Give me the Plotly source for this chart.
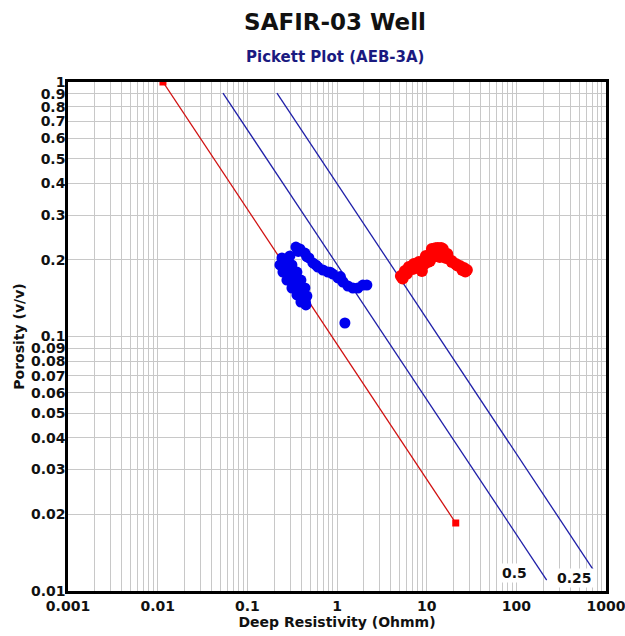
import plotly.graph_objects as go
import math

# --- Data -------------------------------------------------------------
# Blue data points (Deep resistivity, porosity)
blue_rt = [0.2431, 0.2308, 0.2494, 0.2763, 0.3143, 0.3573, 0.3959,
           0.2985, 0.3143, 0.3573, 0.3959, 0.4386, 0.4617, 0.4501,
           0.2693, 0.2985, 0.3308, 0.3665, 0.4062, 0.4276,
           0.2600, 0.2850, 0.3050, 0.3400, 0.3750, 0.4150, 0.4450,
           0.3482, 0.3858, 0.4386, 0.4861, 0.5386, 0.6124, 0.6963, 0.7918,
           0.9003, 1.0233, 1.1636, 1.3228, 1.5041, 1.7100, 1.9445, 2.1544,
           0.3700, 0.4600, 0.5800, 0.8400, 1.0900,
           1.2251]
blue_phi = [0.2035, 0.1910, 0.1792, 0.1667, 0.1551, 0.1456, 0.1366,
            0.2072, 0.1910, 0.1792, 0.1667, 0.1551, 0.1442, 0.1330,
            0.1963, 0.1825, 0.1698, 0.1579, 0.1482, 0.1391,
            0.1990, 0.1870, 0.1730, 0.1620, 0.1520, 0.1420, 0.1360,
            0.2247, 0.2207, 0.2128, 0.2035, 0.1945, 0.1875, 0.1825, 0.1792,
            0.1760, 0.1698, 0.1637, 0.1579, 0.1551, 0.1551, 0.1593, 0.1593,
            0.2160, 0.2060, 0.1910, 0.1790, 0.1720,
            0.1130]

# Red data points
red_rt = [5.157, 5.715, 6.332, 7.199, 8.188, 9.307, 10.31, 11.14, 12.03,
          13.33, 14.77, 15.95, 17.23, 19.10, 21.16, 23.45, 25.98, 28.07,
          11.43, 13.33, 15.15, 9.797, 8.401, 8.842, 14.03, 12.66, 10.86,
          5.40, 6.00, 7.00, 8.20, 9.30, 10.3, 16.5, 19.0, 22.0, 25.0, 27.0,
          11.5, 12.5, 14.5, 17.0]
red_phi = [0.1729, 0.1809, 0.1875, 0.1928, 0.1963, 0.1980, 0.2035, 0.2110, 0.2148,
           0.2167, 0.2167, 0.2110, 0.2035, 0.1963, 0.1928, 0.1892, 0.1858, 0.1825,
           0.2207, 0.2227, 0.2207, 0.2072, 0.1858, 0.1809, 0.2054, 0.2072, 0.1980,
           0.1690, 0.1765, 0.1840, 0.1880, 0.1920, 0.1960, 0.2035, 0.1980, 0.1900,
           0.1825, 0.1800, 0.2167, 0.2220, 0.2227, 0.2110]

# Saturation lines (Sw = 1, 0.5, 0.25)
sw1_rt = [0.01146, 21.1]
sw1_phi = [1.0, 0.0185]
sw05_rt = [0.0535, 218.0]
sw05_phi = [0.905, 0.01104]
sw025_rt = [0.214, 713.0]
sw025_phi = [0.905, 0.0122]

# Ticks
x_tickvals = [m * 10 ** e for e in range(-3, 3) for m in range(1, 10)] + [1000]
x_ticktext = [("%g" % (m * 10 ** e) if m == 1 else "") for e in range(-3, 3)
              for m in range(1, 10)] + ["1000"]
y_tickvals = [m * 10 ** e for e in range(-2, 0) for m in range(1, 10)] + [1]
y_ticktext = ["%g" % v for v in y_tickvals]

# --- Figure -----------------------------------------------------------
FONT = "DejaVu Sans"
fig = go.Figure()

fig.add_trace(go.Scatter(x=sw1_rt, y=sw1_phi, mode="lines+markers",
                         line=dict(color="#d01010", width=1.3),
                         marker=dict(symbol="square", size=7, color="#ff0000"),
                         showlegend=False))
fig.add_trace(go.Scatter(x=sw05_rt, y=sw05_phi, mode="lines",
                         line=dict(color="#1f1fa8", width=1.3), showlegend=False))
fig.add_trace(go.Scatter(x=sw025_rt, y=sw025_phi, mode="lines",
                         line=dict(color="#1f1fa8", width=1.3), showlegend=False))
fig.add_trace(go.Scatter(x=blue_rt, y=blue_phi, mode="markers",
                         marker=dict(size=11, color="#0000ee", line=dict(width=0)),
                         showlegend=False))
fig.add_trace(go.Scatter(x=red_rt, y=red_phi, mode="markers",
                         marker=dict(size=12, color="#ff0000", line=dict(width=0)),
                         showlegend=False))

axis_common = dict(
    type="log", showgrid=True, gridcolor="#c8c8c8", gridwidth=1.3,
    showline=True, linecolor="black", linewidth=2.5, mirror=True,
    ticks="", zeroline=False, automargin=False, ticklabeloverflow="allow",
    tickfont=dict(family=FONT, size=14, color="#111111", weight="bold"),
)

fig.update_xaxes(range=[-3, 3], tickmode="array", tickvals=x_tickvals,
                 ticktext=x_ticktext,
                 title=dict(text="Deep Resistivity (Ohmm)", standoff=3,
                            font=dict(family=FONT, size=14, color="#111111", weight="bold")),
                 **axis_common)
fig.update_yaxes(range=[-2, 0], tickmode="array", tickvals=y_tickvals,
                 ticktext=y_ticktext, ticklabelstandoff=-3,
                 title=dict(text="Porosity (v/v)", standoff=4,
                            font=dict(family=FONT, size=14, color="#111111", weight="bold")),
                 **axis_common)

fig.add_annotation(x=math.log10(96), y=math.log10(0.01177), text="<b>0.5</b>",
                   showarrow=False, bgcolor="white",
                   font=dict(family=FONT, size=14, color="#111111"))
fig.add_annotation(x=math.log10(449), y=math.log10(0.01125), text="<b>0.25</b>",
                   showarrow=False, bgcolor="white",
                   font=dict(family=FONT, size=14, color="#111111"))

fig.add_annotation(xref="paper", yref="paper", x=(335 - 68) / 538, y=1 + 25 / 509,
                   xanchor="center", yanchor="middle",
                   text="<b>Pickett Plot (AEB-3A)</b>", showarrow=False,
                   font=dict(family=FONT, size=15, color="#1a1a80"))

fig.update_layout(
    width=625, height=636,
    margin=dict(l=68, r=19, t=82, b=45),
    paper_bgcolor="white", plot_bgcolor="white",
    title=dict(text="<b>SAFIR-03 Well</b>", xref="container", x=335 / 625,
               xanchor="center", y=1 - 22 / 636, yanchor="middle",
               font=dict(family=FONT, size=23, color="#111111")),
)

fig.write_html("out.html")
